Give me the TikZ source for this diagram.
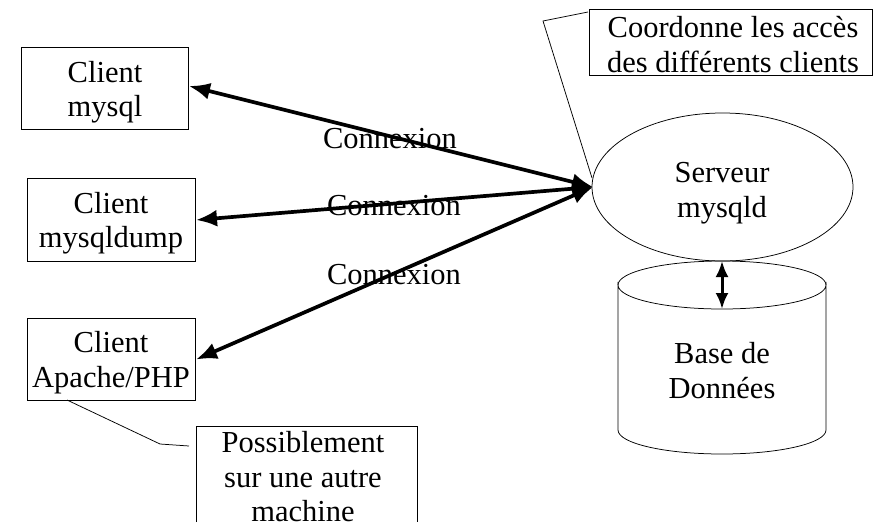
\documentclass[tikz,border=0pt]{standalone}
\usepackage{fontspec}
\setmainfont{Liberation Serif}
\usetikzlibrary{arrows.meta,shapes.geometric}
\tikzset{
 txt/.style={align=center,font=\fontsize{30.5pt}{34.5pt}\selectfont,inner sep=0pt},
 box/.style={draw,line width=0.75pt,fill=white,inner sep=0pt},
 conn/.style={line width=3.7pt,{Latex[length=21pt,width=17pt]}-{Latex[length=21pt,width=17pt]}},
 dbconn/.style={line width=3pt,{Latex[length=16pt,width=13pt]}-{Latex[length=16pt,width=13pt]}},
 note/.style={line width=0.75pt}
}
\begin{document}
\begin{tikzpicture}[x=1pt,y=-1pt]
\useasboundingbox[fill=white] (0,0) rectangle (880,522);
% clients
\node[box,minimum width=167,minimum height=82] (c1) at (104.5,88) {};
\node[txt] (c1t) at (105,92) {Client\\mysql};
\node[box,minimum width=168,minimum height=83] (c2) at (111,219.5) {};
\node[txt] (c2t) at (111,223) {Client\\mysqldump};
\node[box,minimum width=168,minimum height=82] (c3) at (111,359) {};
\node[txt] (c3t) at (111,362.5) {Client\\Apache/PHP};
% server
\node[draw,line width=0.75pt,ellipse,minimum width=261,minimum height=148,inner sep=0pt] (srv) at (722.5,187) {};
\node[txt] (srvt) at (722,193) {Serveur\\mysqld};
% database
\draw[line width=0.75pt] (618,285) arc[start angle=180,end angle=0,x radius=104,y radius=24]
  -- (826,430) arc[start angle=0,end angle=180,x radius=104,y radius=24] -- cycle;
\draw[line width=0.75pt] (618,285) arc[start angle=180,end angle=360,x radius=104,y radius=24];
\node[txt] (db) at (722,370.5) {Base de\\Données};
\coordinate (dbtop) at (722,261);
\coordinate (dbmid) at (722,309);
% notes
\node[box,minimum width=283,minimum height=66] (n1) at (730.5,42) {};
\node[txt] (n1t) at (733,44.5) {Coordonne les accès\\des différents clients};
\coordinate (n2a) at (196.5,522);
\coordinate (n2b) at (196.5,426);
\coordinate (n2c) at (417,426);
\coordinate (n2d) at (417,522);
\draw[line width=0.75pt] (n2a) -- (n2b) -- (n2c) -- (n2d);
\node[txt,anchor=south] (n2) at (303,522) {Possiblement\\sur une autre\\machine};
% note leaders
\coordinate (n1l) at (588,12);
\coordinate (n1k) at (543,21);
\coordinate (srvl) at (592,178);
\draw[note] (n1l) -- (n1k) -- (srvl);
\coordinate (c3b) at (67,400);
\coordinate (c3k) at (160,444);
\coordinate (n2l) at (189,446);
\draw[note] (c3b) -- (c3k) -- (n2l);
% connection labels
\node[txt,anchor=base] (l1) at (390,148) {Connexion};
\node[txt,anchor=base] (l2) at (394,215) {Connexion};
\node[txt,anchor=base] (l3) at (394,284) {Connexion};
% connectors
\coordinate (hub) at (593,187);
\coordinate (a1) at (189,86);
\coordinate (a2) at (196,220);
\coordinate (a3) at (196,359.5);
\draw[conn] (a1) -- (hub);
\draw[conn] (a2) -- (hub);
\draw[conn] (a3) -- (hub);
\draw[dbconn] (dbtop) -- (dbmid);
\end{tikzpicture}
\end{document}
